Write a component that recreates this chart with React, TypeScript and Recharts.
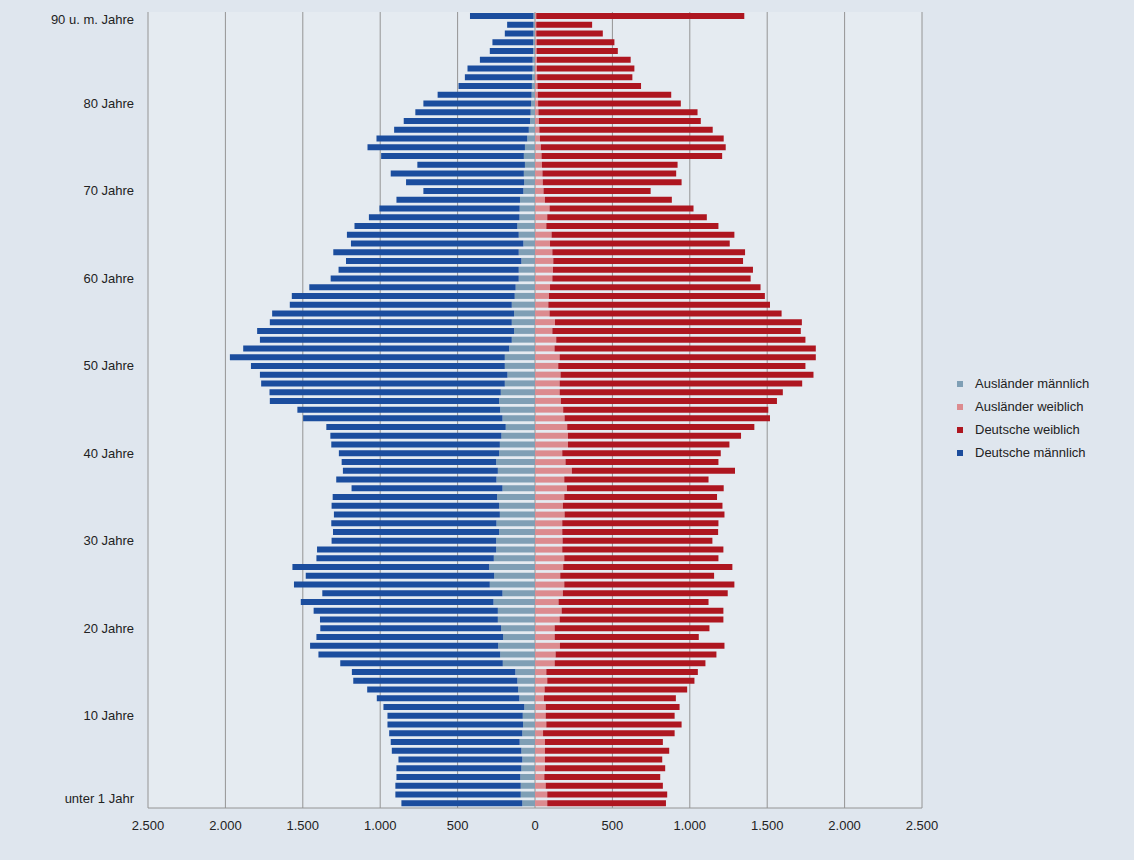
import React from 'react';
import { BarChart, Bar, XAxis, YAxis, CartesianGrid } from 'recharts';

// age rows, top (90 and older) to bottom (under 1)
const ages = Array.from({ length: 91 }, (_, i) => 90 - i);

// values per age row, same order as ages
const auslaenderM = [
  10, 10, 10, 12, 12, 15, 15, 18, 20, 22, 25, 28, 32, 40, 50, 65, 72, 65, 72, 70,
  75, 97, 99, 100, 114, 105, 75, 105, 88, 105, 105, 125, 131, 150, 135, 150, 135, 150, 167, 195,
  195, 178, 195, 221, 232, 225, 210, 189, 217, 227, 232, 251, 240, 249, 210, 245, 232, 227, 249, 232,
  251, 251, 266, 296, 264, 292, 210, 268, 240, 240, 219, 206, 238, 225, 208, 127, 114, 109, 101, 69,
  79, 77, 82, 99, 88, 82, 88, 95, 92, 92, 82,
];
const deutscheM = [
  410, 170, 185, 263, 280, 341, 421, 435, 474, 607, 696, 745, 816, 870, 974, 1017, 922, 695, 860, 763,
  646, 798, 906, 973, 1052, 1110, 1114, 1198, 1133, 1164, 1215, 1333, 1440, 1434, 1563, 1563, 1660, 1627, 1718, 1776,
  1640, 1599, 1574, 1494, 1481, 1310, 1288, 1159, 1105, 1089, 1035, 998, 1001, 1035, 975, 1062, 1082, 1072, 1067, 1073,
  1063, 1157, 1146, 1271, 1217, 1265, 1164, 1245, 1190, 1149, 1168, 1206, 1215, 1174, 1050, 1056, 1060, 975, 921, 910,
  874, 876, 860, 833, 837, 800, 807, 800, 810, 810, 781,
];
const auslaenderW = [
  8, 8, 8, 10, 10, 12, 12, 14, 16, 18, 20, 22, 25, 28, 32, 38, 42, 45, 48, 50,
  55, 64, 94, 79, 73, 107, 97, 112, 118, 116, 112, 97, 90, 86, 94, 129, 112, 137, 126, 159,
  150, 165, 159, 159, 167, 182, 191, 208, 213, 213, 176, 197, 238, 189, 206, 189, 180, 191, 176, 176,
  178, 176, 189, 182, 163, 189, 180, 152, 172, 159, 127, 127, 161, 133, 127, 73, 79, 62, 58, 69,
  69, 73, 52, 64, 64, 64, 64, 60, 69, 79, 79,
];
const deutscheW = [
  1344, 361, 430, 503, 525, 606, 630, 615, 669, 862, 922, 1028, 1046, 1120, 1187, 1194, 1167, 876, 864, 897,
  692, 820, 930, 1031, 1112, 1181, 1161, 1245, 1226, 1292, 1281, 1360, 1395, 1432, 1499, 1595, 1605, 1610, 1688, 1655,
  1597, 1634, 1567, 1442, 1396, 1325, 1327, 1209, 1118, 1043, 1024, 988, 1054, 932, 1013, 987, 1031, 1033, 1009, 1007,
  968, 1041, 996, 1093, 994, 1099, 1065, 969, 1045, 1058, 1000, 931, 1063, 1039, 974, 979, 951, 921, 852, 865,
  833, 874, 850, 762, 803, 758, 777, 749, 757, 775, 767,
];

const ageTicks = [90, 80, 70, 60, 50, 40, 30, 20, 10, 0];
const ageTickLabels = [
  '90 u. m. Jahre', '80 Jahre', '70 Jahre', '60 Jahre', '50 Jahre',
  '40 Jahre', '30 Jahre', '20 Jahre', '10 Jahre', 'unter 1 Jahr',
];
const valueTicks = [-2500, -2000, -1500, -1000, -500, 0, 500, 1000, 1500, 2000, 2500];

const legendItems = [
  { name: 'Ausländer männlich', color: '#7f9fb5' },
  { name: 'Ausländer weiblich', color: '#dc8b8f' },
  { name: 'Deutsche weiblich', color: '#ae1620' },
  { name: 'Deutsche männlich', color: '#1b4c9c' },
];

const data = ages.map((age, i) => ({
  age,
  am: -auslaenderM[i],
  dm: -deutscheM[i],
  aw: auslaenderW[i],
  dw: deutscheW[i],
}));

// 2500 -> "2.500"
const formatValue = (v: number) => {
  const n = Math.abs(v);
  if (n < 1000) return String(n);
  const rest = String(n % 1000).padStart(3, '0');
  return `${Math.floor(n / 1000)}.${rest}`;
};

const font = 'Liberation Sans, Arial, sans-serif';

// age labels; the first and last are pulled slightly inward like in the print
const AgeTick = (props: any) => {
  const { x, y, payload } = props;
  const idx = ageTicks.indexOf(payload.value);
  if (idx < 0) return null;
  const shift = payload.value === 90 ? 4 : payload.value === 0 ? -5 : 0;
  return (
    <text x={x} y={y + shift} dy={4} textAnchor="end" fontSize={13} fill="#222" fontFamily={font}>
      {ageTickLabels[idx]}
    </text>
  );
};

const App: React.FC = () => {
  const tickStyle = { fontSize: 13, fill: '#222', fontFamily: font };
  return (
    <div style={{ width: 1134, height: 860, background: '#dfe6ee', position: 'relative' }}>
      <style>{'body{margin:0}'}</style>
      <BarChart
        width={1134}
        height={860}
        data={data}
        layout="vertical"
        stackOffset="sign"
        barSize={6}
        margin={{ top: 12, right: 212, left: 0, bottom: 22 }}
      >
        <CartesianGrid horizontal={false} stroke="#949494" fill="#e5ebf1" fillOpacity={1} />
        <XAxis
          type="number"
          domain={[-2500, 2500]}
          ticks={valueTicks}
          tickFormatter={formatValue}
          tick={tickStyle}
          tickLine={false}
          axisLine={{ stroke: '#949494' }}
          tickMargin={7}
          height={30}
        />
        <YAxis
          type="category"
          dataKey="age"
          width={148}
          ticks={ageTicks}
          interval={0}
          tick={<AgeTick />}
          tickLine={false}
          axisLine={false}
          tickMargin={8}
        />
        <Bar dataKey="am" stackId="a" fill="#7f9fb5" isAnimationActive={false} />
        <Bar dataKey="dm" stackId="a" fill="#1b4d9e" isAnimationActive={false} />
        <Bar dataKey="aw" stackId="a" fill="#dc8b8f" isAnimationActive={false} />
        <Bar dataKey="dw" stackId="a" fill="#ae1620" isAnimationActive={false} />
      </BarChart>
      <div style={{ position: 'absolute', left: 957, top: 372, fontFamily: font, fontSize: 13, color: '#222' }}>
        {legendItems.map((item) => (
          <div key={item.name} style={{ display: 'flex', alignItems: 'center', height: 23 }}>
            <span style={{ display: 'inline-block', width: 6, height: 6, background: item.color, marginRight: 12 }} />
            <span>{item.name}</span>
          </div>
        ))}
      </div>
    </div>
  );
};

export default App;
